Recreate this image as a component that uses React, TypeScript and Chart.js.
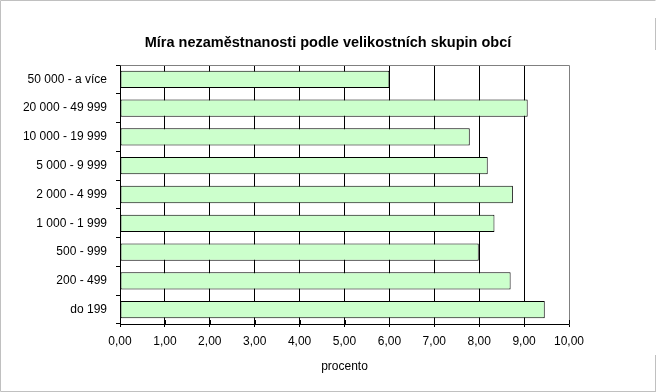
import React, { useEffect, useRef } from "react";
import { Chart, registerables } from "chart.js";

Chart.register(...registerables);

const chartTitle = "Míra nezaměstnanosti podle velikostních skupin obcí";
const axisTitle = "procento";
const categories = [
  "50 000 - a více",
  "20 000 - 49 999",
  "10 000 - 19 999",
  "5 000 - 9 999",
  "2 000 - 4 999",
  "1 000 - 1 999",
  "500 - 999",
  "200 - 499",
  "do 199",
];
const values = [6.0, 9.08, 7.79, 8.19, 8.75, 8.34, 7.99, 8.7, 9.46];
const xMin = 0;
const xMax = 10;
const xStep = 1;

const FONT = "'Liberation Sans', Arial, sans-serif";

const framePlugin = {
  id: "frame",
  beforeDatasetsDraw(chart: any) {
    const { ctx, chartArea } = chart;
    ctx.save();
    ctx.strokeStyle = "#808080";
    ctx.lineWidth = 1;
    ctx.beginPath();
    ctx.moveTo(Math.round(chartArea.left) + 0.5, Math.round(chartArea.top) + 0.5);
    ctx.lineTo(Math.round(chartArea.right) + 0.5, Math.round(chartArea.top) + 0.5);
    ctx.lineTo(Math.round(chartArea.right) + 0.5, Math.round(chartArea.bottom) + 0.5);
    ctx.stroke();
    ctx.restore();
  },
  afterDraw(chart: any) {
    const { ctx, width, height } = chart;
    ctx.save();
    // title
    ctx.fillStyle = "#000";
    ctx.font = `bold 14.5px ${FONT}`;
    ctx.textAlign = "center";
    ctx.textBaseline = "middle";
    ctx.fillText(chartTitle, width / 2, 43);
    // outer frame
    ctx.strokeStyle = "#c0c0c0";
    ctx.lineWidth = 1;
    ctx.beginPath();
    ctx.moveTo(0.5, height - 0.5);
    ctx.lineTo(0.5, 0.5);
    ctx.lineTo(width - 0.5, 0.5);
    ctx.moveTo(0.5, height - 0.5);
    ctx.lineTo(width - 0.5, height - 0.5);
    ctx.moveTo(width - 0.5, 18);
    ctx.lineTo(width - 0.5, 50);
    ctx.moveTo(width - 0.5, 355);
    ctx.lineTo(width - 0.5, height);
    ctx.stroke();
    // x ticks crossing upward into the plot
    const xs = chart.scales.x;
    ctx.strokeStyle = "#000";
    ctx.beginPath();
    for (let v = xMin; v <= xMax; v += xStep) {
      const px = Math.round(xs.getPixelForValue(v)) + 0.5;
      ctx.moveTo(px, Math.round(chart.chartArea.bottom) - 4);
      ctx.lineTo(px, Math.round(chart.chartArea.bottom));
    }
    ctx.stroke();
    ctx.restore();
  },
};

export default function App() {
  const ref = useRef<HTMLCanvasElement | null>(null);

  useEffect(() => {
    document.body.style.margin = "0";
    if (!ref.current) return;
    const chart = new Chart(ref.current, {
      type: "bar",
      data: {
        labels: categories,
        datasets: [
          {
            data: values,
            backgroundColor: "#ccffcc",
            borderColor: "#000000",
            borderWidth: 1,
            borderSkipped: false,
            categoryPercentage: 0.6,
            barPercentage: 1,
          },
        ],
      },
      options: {
        indexAxis: "y",
        responsive: false,
        maintainAspectRatio: false,
        animation: false,
        layout: { padding: { top: 65, left: 0, right: 87, bottom: 18 } },
        plugins: {
          legend: { display: false },
          tooltip: { enabled: false },
          title: { display: false },
        },
        scales: {
          x: {
            type: "linear",
            min: xMin,
            max: xMax,
            ticks: {
              stepSize: xStep,
              color: "#000",
              font: { family: FONT, size: 12 },
              padding: 7,
              maxRotation: 0,
              callback: (v: any) => Number(v).toFixed(2).replace(".", ","),
            },
            grid: {
              color: (c: any) => (c.tick && c.tick.value === xMax ? "rgba(0,0,0,0)" : "#000"),
              tickColor: "#000",
              tickLength: 3,
              lineWidth: 1,
            },
            border: { display: true, color: "#000" },
            title: {
              display: true,
              text: axisTitle,
              color: "#000",
              font: { family: FONT, size: 12 },
              padding: { top: 2, bottom: 0 },
            },
            afterFit: (s: any) => {
              s.height = 50;
            },
          },
          y: {
            ticks: {
              color: "#000",
              font: { family: FONT, size: 12 },
              padding: 9,
            },
            grid: {
              display: true,
              drawOnChartArea: false,
              drawTicks: true,
              tickLength: 4,
              tickColor: "#000",
              offset: true,
            },
            border: { display: true, color: "#000" },
            afterFit: (s: any) => {
              s.width = 120;
            },
          },
        },
      },
      plugins: [framePlugin],
    } as any);
    return () => chart.destroy();
  }, []);

  return <canvas ref={ref} width={656} height={392} style={{ display: "block" }} />;
}
